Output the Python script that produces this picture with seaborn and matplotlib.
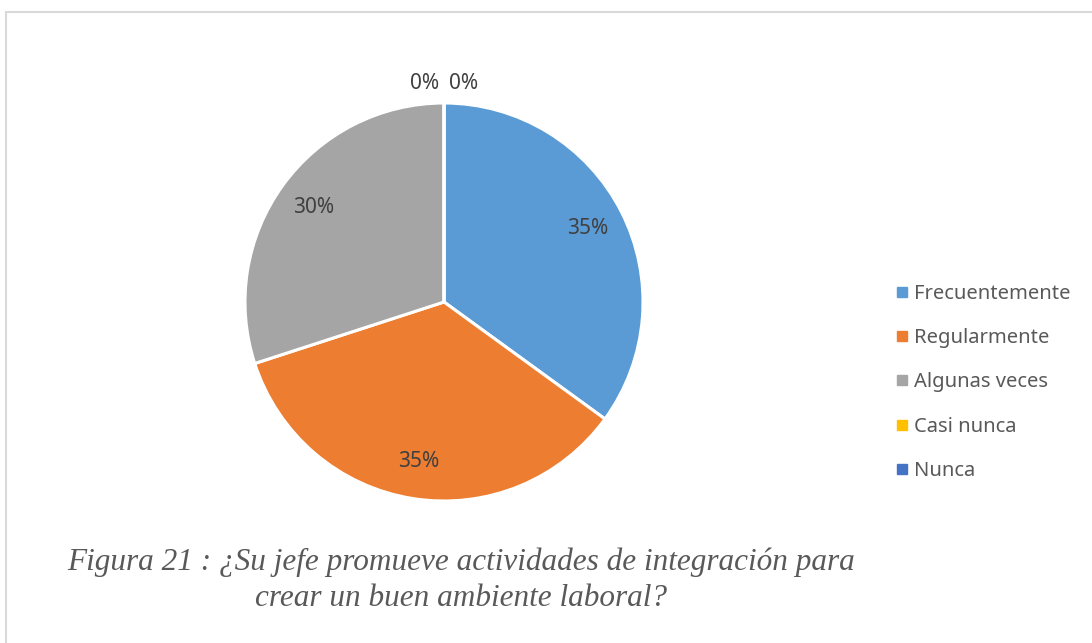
import matplotlib
matplotlib.use("Agg")
import matplotlib.pyplot as plt
from matplotlib.patches import Rectangle
from matplotlib.lines import Line2D
import seaborn as sns
import numpy as np

categories = ["Frecuentemente", "Regularmente", "Algunas veces", "Casi nunca", "Nunca"]
percentages = [35, 35, 30, 0, 0]
colors = ["#5B9BD5", "#ED7D31", "#A5A5A5", "#FFC000", "#4472C4"]
caption = "Figura 21 : ¿Su jefe promueve actividades de integración para\ncrear un buen ambiente laboral?"

sns.set_theme(style="white")
plt.rcParams["font.family"] = ["Noto Sans", "DejaVu Sans"]
legend_color = "#595959"
label_color = "#404040"

W, H = 1092, 643
fig = plt.figure(figsize=(W / 100, H / 100), dpi=100)

# light chart-area frame (left and top edges visible)
fig.patches.append(Rectangle((6 / W, -0.1), 1.2, 1 - 12 / H + 0.1, transform=fig.transFigure,
                             fill=False, edgecolor="#D9D9D9", linewidth=1.5))

cx, cy, r = 444, 302, 199
ax = fig.add_axes([(cx - r) / W, (H - cy - r) / H, 2 * r / W, 2 * r / H])
wedges, _ = ax.pie(percentages, colors=colors, startangle=90, counterclock=False,
                   wedgeprops=dict(edgecolor="white", linewidth=2.2))
ax.set_xlim(-1, 1)
ax.set_ylim(-1, 1)
ax.set_aspect("equal")
ax.axis("off")

# percentage labels
for w, val in zip(wedges, percentages):
    mid = np.deg2rad((w.theta1 + w.theta2) / 2)
    if val > 0:
        d = 0.81
        ax.text(d * np.cos(mid), d * np.sin(mid), f"{val}%", ha="center", va="center",
                fontsize=15, color=label_color)
zero = [(w, v) for w, v in zip(wedges, percentages) if v == 0]
offsets = [-14, 14]
for (w, v), off in zip(zero, offsets):
    mid = np.deg2rad((w.theta1 + w.theta2) / 2)
    ax.annotate(f"{v}%", xy=(1.04 * np.cos(mid), 1.04 * np.sin(mid)), xytext=(off, 1),
                textcoords="offset points", ha="center", va="bottom",
                fontsize=15, color=label_color, annotation_clip=False)

handles = [Line2D([], [], marker="s", linestyle="none", markersize=6.5,
                  markerfacecolor=c, markeredgecolor=c) for c in colors]
leg = fig.legend(handles, categories, loc="upper left", bbox_to_anchor=(884 / W, 1 - 276 / H),
                 frameon=False, fontsize=14.5, labelspacing=1.2, handletextpad=0.1,
                 handlelength=1.0, borderaxespad=0)
for t in leg.get_texts():
    t.set_color(legend_color)

fig.text(461 / W, 1 - 580 / H, caption, ha="center", va="center", fontsize=22.5,
         family=["Liberation Serif"], style="italic", color=legend_color, linespacing=1.3)

fig.savefig("out.png", dpi=100, facecolor="white")
